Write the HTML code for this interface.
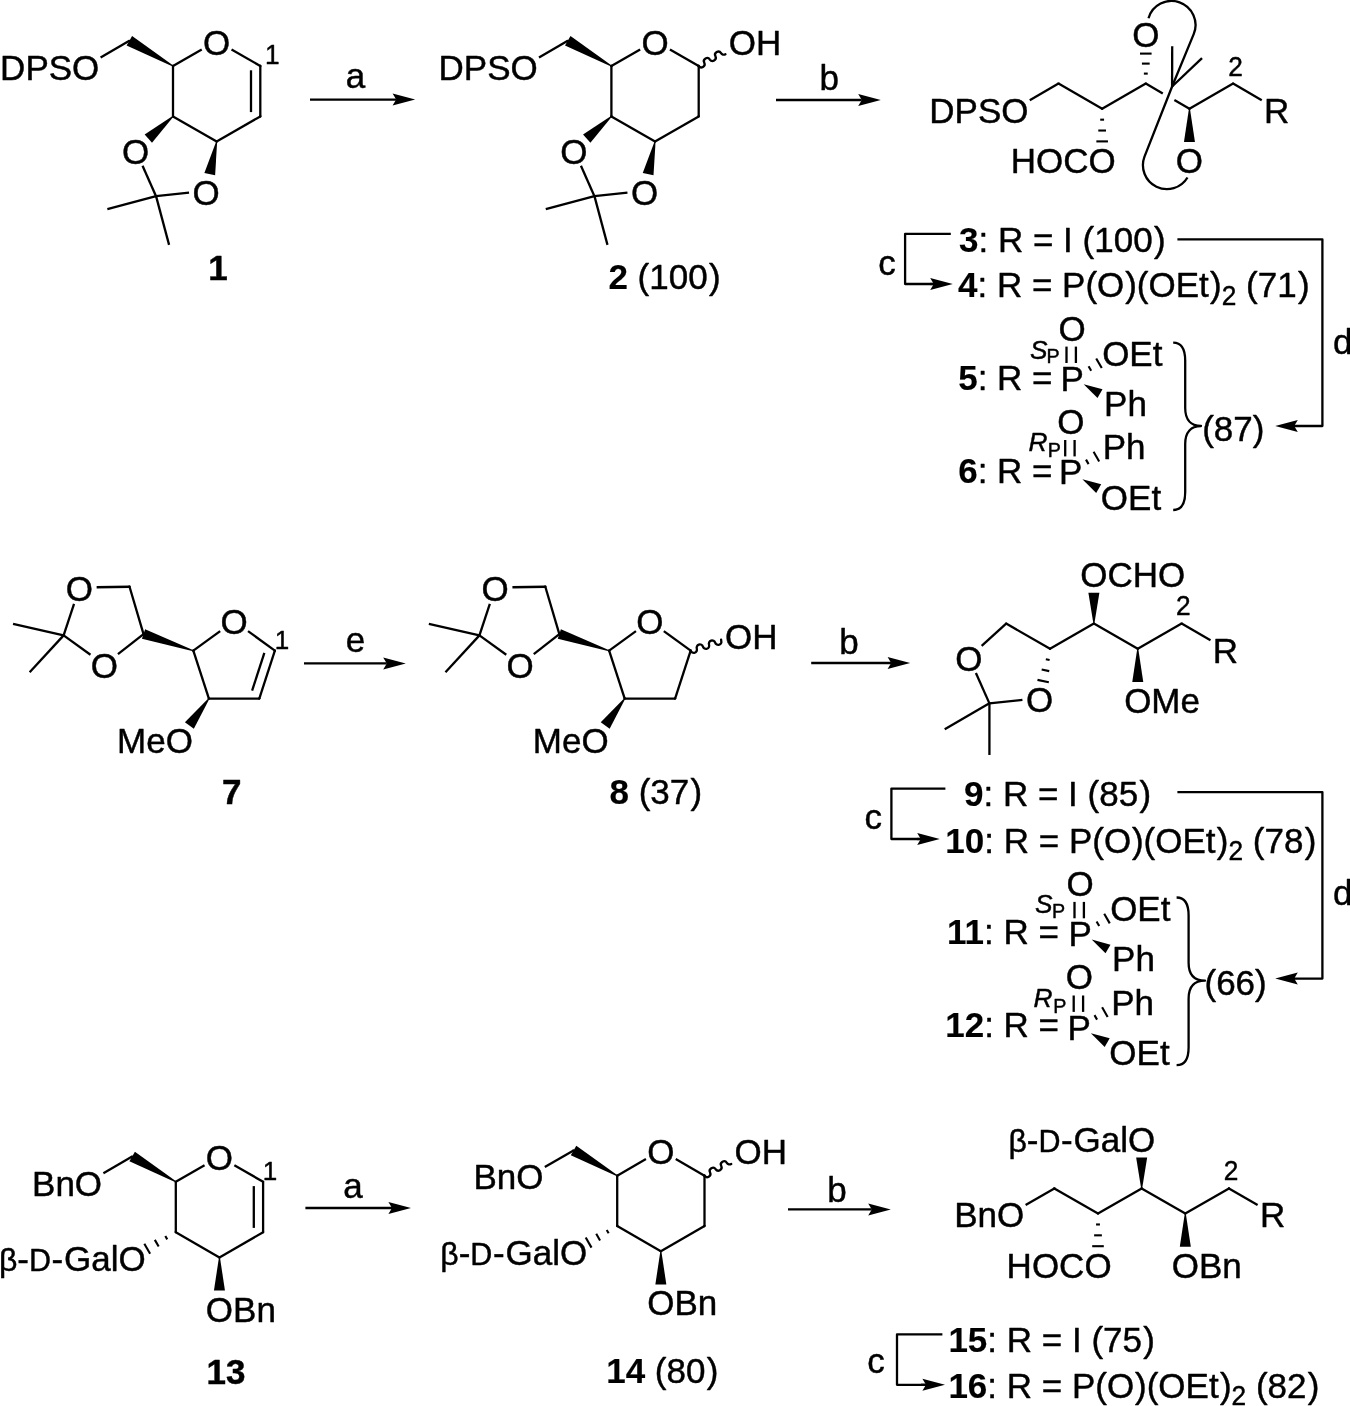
<!DOCTYPE html>
<html lang="en">
<head>
<meta charset="utf-8">
<title>Reaction scheme</title>
<style>
html,body{margin:0;padding:0;background:#fff;}
body{width:1350px;height:1406px;overflow:hidden;}
svg{display:block;will-change:transform;}
</style>
</head>
<body>
<svg width="1350" height="1406" viewBox="0 0 1350 1406" font-family="'Liberation Sans', sans-serif" font-size="35" fill="#000" stroke="#000" stroke-linejoin="round">
<g>
<line x1="173" y1="66" x2="201.75" y2="49.4" stroke-width="2.3" stroke-linecap="butt"/>
<circle cx="173" cy="66" r="1.15" stroke="none"/>
<line x1="231.54" y1="49.4" x2="260.3" y2="66" stroke-width="2.3" stroke-linecap="butt"/>
<circle cx="260.3" cy="66" r="1.15" stroke="none"/>
<line x1="260.3" y1="66" x2="260.3" y2="116.4" stroke-width="2.3" stroke-linecap="butt"/>
<circle cx="260.3" cy="66" r="1.15" stroke="none"/>
<circle cx="260.3" cy="116.4" r="1.15" stroke="none"/>
<line x1="260.3" y1="116.4" x2="216.65" y2="141.6" stroke-width="2.3" stroke-linecap="butt"/>
<circle cx="260.3" cy="116.4" r="1.15" stroke="none"/>
<circle cx="216.65" cy="141.6" r="1.15" stroke="none"/>
<line x1="216.65" y1="141.6" x2="173" y2="116.4" stroke-width="2.3" stroke-linecap="butt"/>
<circle cx="216.65" cy="141.6" r="1.15" stroke="none"/>
<circle cx="173" cy="116.4" r="1.15" stroke="none"/>
<line x1="173" y1="116.4" x2="173" y2="66" stroke-width="2.3" stroke-linecap="butt"/>
<circle cx="173" cy="116.4" r="1.15" stroke="none"/>
<circle cx="173" cy="66" r="1.15" stroke="none"/>
<line x1="251" y1="70.3" x2="251" y2="112.1" stroke-width="2.3" stroke-linecap="butt"/>
<polygon points="173.25,65.57 132.1,36.04 126.6,45.56 172.75,66.43" stroke="none" fill="#000"/>
<line x1="129.35" y1="40.8" x2="100.6" y2="57.4" stroke-width="2.3" stroke-linecap="butt"/>
<circle cx="129.35" cy="40.8" r="1.15" stroke="none"/>
<text stroke-width="0.45" x="99.31" y="79.8" transform="matrix(1 0 0 1.02 0 -1.6)" text-anchor="end">DPSO</text>
<text stroke-width="0.45" x="216.65" y="54.6" transform="matrix(1 0 0 1.02 0 -1.09)" text-anchor="middle">O</text>
<polygon points="172.67,116.03 144.65,134.53 152.01,142.7 173.33,116.77" stroke="none" fill="#000"/>
<polygon points="216.16,141.5 204.37,172.93 215.12,175.22 217.14,141.7" stroke="none" fill="#000"/>
<text stroke-width="0.45" x="135.55" y="163.92" transform="matrix(1 0 0 1.02 0 -3.28)" text-anchor="middle">O</text>
<text stroke-width="0.45" x="206.17" y="204.7" transform="matrix(1 0 0 1.02 0 -4.09)" text-anchor="middle">O</text>
<line x1="142.54" y1="165.84" x2="156.05" y2="196.17" stroke-width="2.3" stroke-linecap="butt"/>
<circle cx="156.05" cy="196.17" r="1.15" stroke="none"/>
<line x1="189.06" y1="192.7" x2="156.05" y2="196.17" stroke-width="2.3" stroke-linecap="butt"/>
<circle cx="156.05" cy="196.17" r="1.15" stroke="none"/>
<line x1="156.05" y1="196.17" x2="107.36" y2="209.21" stroke-width="2.3" stroke-linecap="butt"/>
<circle cx="156.05" cy="196.17" r="1.15" stroke="none"/>
<line x1="156.05" y1="196.17" x2="169.09" y2="244.85" stroke-width="2.3" stroke-linecap="butt"/>
<circle cx="156.05" cy="196.17" r="1.15" stroke="none"/>
<text stroke-width="0.45" x="272.3" y="64.5" transform="matrix(1 0 0 1.02 0 -1.29)" text-anchor="middle" font-size="26.25">1</text>
<text stroke-width="0.45" x="218" y="279.75" transform="matrix(1 0 0 1.02 0 -5.6)" text-anchor="middle" font-weight="bold">1</text>
<line x1="310" y1="99.6" x2="396.2" y2="99.6" stroke-width="2.3" stroke-linecap="butt"/>
<polygon points="415.2,99.6 392.6,93.6 396.2,99.6 392.6,105.6" stroke="none" fill="#000"/>
<text stroke-width="0.45" x="355.6" y="87.8" text-anchor="middle">a</text>
<line x1="611.4" y1="66" x2="640.15" y2="49.4" stroke-width="2.3" stroke-linecap="butt"/>
<circle cx="611.4" cy="66" r="1.15" stroke="none"/>
<line x1="669.94" y1="49.4" x2="698.7" y2="66" stroke-width="2.3" stroke-linecap="butt"/>
<circle cx="698.7" cy="66" r="1.15" stroke="none"/>
<line x1="698.7" y1="66" x2="698.7" y2="116.4" stroke-width="2.3" stroke-linecap="butt"/>
<circle cx="698.7" cy="66" r="1.15" stroke="none"/>
<circle cx="698.7" cy="116.4" r="1.15" stroke="none"/>
<line x1="698.7" y1="116.4" x2="655.05" y2="141.6" stroke-width="2.3" stroke-linecap="butt"/>
<circle cx="698.7" cy="116.4" r="1.15" stroke="none"/>
<circle cx="655.05" cy="141.6" r="1.15" stroke="none"/>
<line x1="655.05" y1="141.6" x2="611.4" y2="116.4" stroke-width="2.3" stroke-linecap="butt"/>
<circle cx="655.05" cy="141.6" r="1.15" stroke="none"/>
<circle cx="611.4" cy="116.4" r="1.15" stroke="none"/>
<line x1="611.4" y1="116.4" x2="611.4" y2="66" stroke-width="2.3" stroke-linecap="butt"/>
<circle cx="611.4" cy="116.4" r="1.15" stroke="none"/>
<circle cx="611.4" cy="66" r="1.15" stroke="none"/>
<polygon points="611.65,65.57 570.5,36.04 565,45.56 611.15,66.43" stroke="none" fill="#000"/>
<line x1="567.75" y1="40.8" x2="539" y2="57.4" stroke-width="2.3" stroke-linecap="butt"/>
<circle cx="567.75" cy="40.8" r="1.15" stroke="none"/>
<text stroke-width="0.45" x="537.71" y="79.8" transform="matrix(1 0 0 1.02 0 -1.6)" text-anchor="end">DPSO</text>
<text stroke-width="0.45" x="655.05" y="54.6" transform="matrix(1 0 0 1.02 0 -1.09)" text-anchor="middle">O</text>
<polygon points="611.07,116.03 583.05,134.53 590.41,142.7 611.73,116.77" stroke="none" fill="#000"/>
<polygon points="654.56,141.5 642.77,172.93 653.52,175.22 655.54,141.7" stroke="none" fill="#000"/>
<text stroke-width="0.45" x="573.95" y="163.92" transform="matrix(1 0 0 1.02 0 -3.28)" text-anchor="middle">O</text>
<text stroke-width="0.45" x="644.57" y="204.7" transform="matrix(1 0 0 1.02 0 -4.09)" text-anchor="middle">O</text>
<line x1="580.94" y1="165.84" x2="594.45" y2="196.17" stroke-width="2.3" stroke-linecap="butt"/>
<circle cx="594.45" cy="196.17" r="1.15" stroke="none"/>
<line x1="627.46" y1="192.7" x2="594.45" y2="196.17" stroke-width="2.3" stroke-linecap="butt"/>
<circle cx="594.45" cy="196.17" r="1.15" stroke="none"/>
<line x1="594.45" y1="196.17" x2="545.76" y2="209.21" stroke-width="2.3" stroke-linecap="butt"/>
<circle cx="594.45" cy="196.17" r="1.15" stroke="none"/>
<line x1="594.45" y1="196.17" x2="607.49" y2="244.85" stroke-width="2.3" stroke-linecap="butt"/>
<circle cx="594.45" cy="196.17" r="1.15" stroke="none"/>
<path d="M698.7 66 A3.23 3.23 0 0 0 704.28 62.78 A3.23 3.23 0 0 1 709.87 59.55 A3.23 3.23 0 0 0 715.45 56.33 A3.23 3.23 0 0 1 721.04 53.1 A3.23 3.23 0 0 0 725.44 54.28" stroke-width="2.3" fill="none" stroke-linecap="round"/>
<text stroke-width="0.45" x="728.73" y="54.6" transform="matrix(1 0 0 1.02 0 -1.09)">OH</text>
<text stroke-width="0.45" x="608.4" y="288.75" transform="matrix(1 0 0 1.02 0 -5.78)" dx="0 0 0 0 0 0 1.3"><tspan font-weight="bold" stroke-width="0.15">2</tspan> (100)</text>
<line x1="776" y1="100" x2="861.8" y2="100" stroke-width="2.3" stroke-linecap="butt"/>
<polygon points="880.8,100 858.2,94 861.8,100 858.2,106" stroke="none" fill="#000"/>
<text stroke-width="0.45" x="829.2" y="90.1" text-anchor="middle">b</text>
<line x1="1029.75" y1="100.2" x2="1058.5" y2="83.6" stroke-width="2.3" stroke-linecap="butt"/>
<circle cx="1058.5" cy="83.6" r="1.15" stroke="none"/>
<line x1="1058.5" y1="83.6" x2="1102.15" y2="108.8" stroke-width="2.3" stroke-linecap="butt"/>
<circle cx="1058.5" cy="83.6" r="1.15" stroke="none"/>
<circle cx="1102.15" cy="108.8" r="1.15" stroke="none"/>
<line x1="1102.15" y1="108.8" x2="1145.8" y2="83.6" stroke-width="2.3" stroke-linecap="butt"/>
<circle cx="1102.15" cy="108.8" r="1.15" stroke="none"/>
<circle cx="1145.8" cy="83.6" r="1.15" stroke="none"/>
<line x1="1145.8" y1="83.6" x2="1162.78" y2="93.4" stroke-width="2.3" stroke-linecap="butt"/>
<circle cx="1145.8" cy="83.6" r="1.15" stroke="none"/>
<line x1="1174.38" y1="100.1" x2="1189.45" y2="108.8" stroke-width="2.3" stroke-linecap="butt"/>
<circle cx="1189.45" cy="108.8" r="1.15" stroke="none"/>
<line x1="1189.45" y1="108.8" x2="1233.1" y2="83.6" stroke-width="2.3" stroke-linecap="butt"/>
<circle cx="1189.45" cy="108.8" r="1.15" stroke="none"/>
<circle cx="1233.1" cy="83.6" r="1.15" stroke="none"/>
<line x1="1233.1" y1="83.6" x2="1261.75" y2="100.14" stroke-width="2.3" stroke-linecap="butt"/>
<circle cx="1233.1" cy="83.6" r="1.15" stroke="none"/>
<text stroke-width="0.45" x="1028.46" y="122.6" transform="matrix(1 0 0 1.02 0 -2.45)" text-anchor="end">DPSO</text>
<text stroke-width="0.45" x="1276.75" y="122.6" transform="matrix(1 0 0 1.02 0 -2.45)" text-anchor="middle">R</text>
<text stroke-width="0.45" x="1235.6" y="75.6" transform="matrix(1 0 0 1.02 0 -1.51)" text-anchor="middle" font-size="26.25">2</text>
<line x1="1100.22" y1="119.67" x2="1104.08" y2="119.67" stroke-width="2.1" stroke-linecap="butt"/>
<line x1="1098.28" y1="130.53" x2="1106.02" y2="130.53" stroke-width="2.1" stroke-linecap="butt"/>
<line x1="1096.35" y1="141.4" x2="1107.95" y2="141.4" stroke-width="2.1" stroke-linecap="butt"/>
<text stroke-width="0.45" x="1115.76" y="173" transform="matrix(1 0 0 1.02 0 -3.46)" text-anchor="end">HOCO</text>
<line x1="1147.73" y1="73.6" x2="1143.87" y2="73.6" stroke-width="2.1" stroke-linecap="butt"/>
<line x1="1149.67" y1="63.6" x2="1141.93" y2="63.6" stroke-width="2.1" stroke-linecap="butt"/>
<line x1="1151.6" y1="53.6" x2="1140" y2="53.6" stroke-width="2.1" stroke-linecap="butt"/>
<text stroke-width="0.45" x="1145.8" y="47" transform="matrix(1 0 0 1.02 0 -0.94)" text-anchor="middle">O</text>
<polygon points="1188.95,108.8 1183.95,142 1194.95,142 1189.95,108.8" stroke="none" fill="#000"/>
<text stroke-width="0.45" x="1189.45" y="173" transform="matrix(1 0 0 1.02 0 -3.46)" text-anchor="middle">O</text>
<line x1="1172.1" y1="86.5" x2="1172.2" y2="46.3" stroke-width="2.3" stroke-linecap="butt"/>
<circle cx="1172.1" cy="86.5" r="1.15" stroke="none"/>
<line x1="1172.1" y1="86.5" x2="1202" y2="58.2" stroke-width="2.3" stroke-linecap="butt"/>
<circle cx="1172.1" cy="86.5" r="1.15" stroke="none"/>
<path d="M1172.1 86.5 L1193.7 34.15 A24 24 0 1 0 1148.5 18.2" stroke-width="2.3" fill="none"/>
<path d="M1172.1 86.5 L1144.5 156.6 A24 24 0 0 0 1187.5 177.5" stroke-width="2.3" fill="none"/>
<text stroke-width="0.45" x="959" y="252" transform="matrix(1 0 0 1.02 0 -5.04)" dx="0 0 0 0 0 0 0 0 0 0 0 0 0 1.3"><tspan font-weight="bold" stroke-width="0.15">3</tspan>: R = I (100)</text>
<text stroke-width="0.45" x="958" y="297.4" transform="matrix(1 0 0 1.02 0 -5.95)" dx="0 0 0 0 0 0 0 0 0 0 0.8 0 0 0 0 1.3 0 0 0 0 0 1.3"><tspan font-weight="bold" stroke-width="0.15">4</tspan>: R = P(O)(OEt)<tspan font-size="26.25" dy="7">2</tspan><tspan dy="-7"> (71)</tspan></text>
<path d="M950.8 233.9 H905.1 V284 H934" stroke-width="2.3" fill="none"/>
<line x1="930" y1="284" x2="933.8" y2="284" stroke-width="2.3" stroke-linecap="butt"/>
<polygon points="952.8,284 930.2,278 933.8,284 930.2,290" stroke="none" fill="#000"/>
<text stroke-width="0.45" x="887" y="274.5" text-anchor="middle">c</text>
<path d="M1177.4 239.4 H1322.4 V426 H1290" stroke-width="2.3" fill="none"/>
<line x1="1295" y1="426" x2="1294.2" y2="426" stroke-width="2.3" stroke-linecap="butt"/>
<polygon points="1275.2,426 1297.8,420 1294.2,426 1297.8,432" stroke="none" fill="#000"/>
<text stroke-width="0.45" x="1332.9" y="353.8">d</text>
<text stroke-width="0.45" x="1072.1" y="391" transform="matrix(1 0 0 1.02 0 -7.82)" text-anchor="middle">P</text>
<text stroke-width="0.45" x="1072.1" y="340.6" transform="matrix(1 0 0 1.02 0 -6.81)" text-anchor="middle">O</text>
<line x1="1066.5" y1="346.6" x2="1066.5" y2="363" stroke-width="2.3" stroke-linecap="butt"/>
<line x1="1075.9" y1="346.6" x2="1075.9" y2="363" stroke-width="2.3" stroke-linecap="butt"/>
<text stroke-width="0.45" x="1029.9" y="358.65" font-size="26.25"><tspan font-style="italic">S</tspan><tspan font-size="19.7" x="1046.5" y="363.1">P</tspan></text>
<text stroke-width="0.45" x="1102.14" y="365.8" transform="matrix(1 0 0 1.02 0 -7.32)">OEt</text>
<text stroke-width="0.45" x="1104.08" y="416.2" transform="matrix(1 0 0 1.02 0 -8.32)">Ph</text>
<line x1="1088.59" y1="366.25" x2="1091.19" y2="370.75" stroke-width="2.1" stroke-linecap="butt"/>
<line x1="1096.21" y1="358.44" x2="1101.76" y2="368.06" stroke-width="2.1" stroke-linecap="butt"/>
<polygon points="1083.7,384.3 1097.49,398.03 1102.49,389.37" stroke="none" fill="#000"/>
<text stroke-width="0.45" x="958.2" y="390" transform="matrix(1 0 0 1.02 0 -7.8)"><tspan font-weight="bold" stroke-width="0.15">5</tspan>: R =</text>
<text stroke-width="0.45" x="1070.8" y="484.4" transform="matrix(1 0 0 1.02 0 -9.69)" text-anchor="middle">P</text>
<text stroke-width="0.45" x="1070.8" y="434" transform="matrix(1 0 0 1.02 0 -8.68)" text-anchor="middle">O</text>
<line x1="1065.2" y1="440" x2="1065.2" y2="456.4" stroke-width="2.3" stroke-linecap="butt"/>
<line x1="1074.6" y1="440" x2="1074.6" y2="456.4" stroke-width="2.3" stroke-linecap="butt"/>
<text stroke-width="0.45" x="1028.6" y="450.6" font-size="26.25"><tspan font-style="italic">R</tspan><tspan font-size="19.7" x="1047.8" y="456.9">P</tspan></text>
<text stroke-width="0.45" x="1102.78" y="459.2" transform="matrix(1 0 0 1.02 0 -9.18)">Ph</text>
<text stroke-width="0.45" x="1100.84" y="509.6" transform="matrix(1 0 0 1.02 0 -10.19)">OEt</text>
<line x1="1085.99" y1="459.65" x2="1088.59" y2="464.15" stroke-width="2.1" stroke-linecap="butt"/>
<line x1="1093.61" y1="451.84" x2="1099.16" y2="461.46" stroke-width="2.1" stroke-linecap="butt"/>
<polygon points="1082.4,479.2 1096.19,492.93 1101.19,484.27" stroke="none" fill="#000"/>
<text stroke-width="0.45" x="958.2" y="483" transform="matrix(1 0 0 1.02 0 -9.66)"><tspan font-weight="bold" stroke-width="0.15">6</tspan>: R =</text>
<path d="M1173.2 342.6 C1181.2 342.6 1185.2 348.6 1185.2 360.6 L1185.2 408 C1185.2 420 1191.2 426 1201 426 C1191.2 426 1185.2 432 1185.2 444 L1185.2 492 C1185.2 504 1181.2 510 1173.2 510" stroke-width="2.3" fill="none"/>
<text stroke-width="0.45" x="1202.2" y="441.5" transform="matrix(1 0 0 1.02 0 -8.83)">(87)</text>
<line x1="208.9" y1="698.6" x2="259.3" y2="698.6" stroke-width="2.3" stroke-linecap="butt"/>
<circle cx="208.9" cy="698.6" r="1.15" stroke="none"/>
<circle cx="259.3" cy="698.6" r="1.15" stroke="none"/>
<line x1="208.9" y1="698.6" x2="193.33" y2="650.67" stroke-width="2.3" stroke-linecap="butt"/>
<circle cx="208.9" cy="698.6" r="1.15" stroke="none"/>
<circle cx="193.33" cy="650.67" r="1.15" stroke="none"/>
<line x1="259.3" y1="698.6" x2="274.87" y2="650.67" stroke-width="2.3" stroke-linecap="butt"/>
<circle cx="259.3" cy="698.6" r="1.15" stroke="none"/>
<circle cx="274.87" cy="650.67" r="1.15" stroke="none"/>
<line x1="193.33" y1="650.67" x2="220.18" y2="631.15" stroke-width="2.3" stroke-linecap="butt"/>
<circle cx="193.33" cy="650.67" r="1.15" stroke="none"/>
<line x1="248.02" y1="631.15" x2="274.87" y2="650.67" stroke-width="2.3" stroke-linecap="butt"/>
<circle cx="274.87" cy="650.67" r="1.15" stroke="none"/>
<text stroke-width="0.45" x="234.1" y="634.34" transform="matrix(1 0 0 1.02 0 -12.69)" text-anchor="middle">O</text>
<line x1="264.36" y1="652.93" x2="252.12" y2="690.59" stroke-width="2.3" stroke-linecap="butt"/>
<polygon points="208.5,698.31 184.94,722.23 193.84,728.69 209.3,698.89" stroke="none" fill="#000"/>
<text stroke-width="0.45" x="192.89" y="752.77" transform="matrix(1 0 0 1.02 0 -15.06)" text-anchor="end">MeO</text>
<polygon points="193.48,650.19 145.11,629.32 141.94,638.81 193.17,651.14" stroke="none" fill="#000"/>
<line x1="143.53" y1="634.07" x2="129.53" y2="586.77" stroke-width="2.3" stroke-linecap="butt"/>
<circle cx="143.53" cy="634.07" r="1.15" stroke="none"/>
<circle cx="129.53" cy="586.77" r="1.15" stroke="none"/>
<line x1="129.53" y1="586.77" x2="96.62" y2="587.23" stroke-width="2.3" stroke-linecap="butt"/>
<circle cx="129.53" cy="586.77" r="1.15" stroke="none"/>
<line x1="74.04" y1="603.8" x2="63.63" y2="635.37" stroke-width="2.3" stroke-linecap="butt"/>
<circle cx="63.63" cy="635.37" r="1.15" stroke="none"/>
<line x1="63.63" y1="635.37" x2="90.47" y2="654.71" stroke-width="2.3" stroke-linecap="butt"/>
<circle cx="63.63" cy="635.37" r="1.15" stroke="none"/>
<line x1="117.95" y1="654.14" x2="143.53" y2="634.07" stroke-width="2.3" stroke-linecap="butt"/>
<circle cx="143.53" cy="634.07" r="1.15" stroke="none"/>
<text stroke-width="0.45" x="79.43" y="600.67" transform="matrix(1 0 0 1.02 0 -12.01)" text-anchor="middle">O</text>
<text stroke-width="0.45" x="104.43" y="677.97" transform="matrix(1 0 0 1.02 0 -13.56)" text-anchor="middle">O</text>
<line x1="63.63" y1="635.37" x2="13.04" y2="623.78" stroke-width="2.3" stroke-linecap="butt"/>
<circle cx="63.63" cy="635.37" r="1.15" stroke="none"/>
<line x1="63.63" y1="635.37" x2="29.65" y2="672.19" stroke-width="2.3" stroke-linecap="butt"/>
<circle cx="63.63" cy="635.37" r="1.15" stroke="none"/>
<text stroke-width="0.45" x="282" y="649" transform="matrix(1 0 0 1.02 0 -12.98)" text-anchor="middle" font-size="26">1</text>
<text stroke-width="0.45" x="231.8" y="804.2" transform="matrix(1 0 0 1.02 0 -16.08)" text-anchor="middle" font-weight="bold">7</text>
<line x1="304" y1="663.4" x2="386.8" y2="663.4" stroke-width="2.3" stroke-linecap="butt"/>
<polygon points="405.8,663.4 383.2,657.4 386.8,663.4 383.2,669.4" stroke="none" fill="#000"/>
<text stroke-width="0.45" x="355.6" y="651.7" text-anchor="middle">e</text>
<line x1="624.7" y1="698.6" x2="675.1" y2="698.6" stroke-width="2.3" stroke-linecap="butt"/>
<circle cx="624.7" cy="698.6" r="1.15" stroke="none"/>
<circle cx="675.1" cy="698.6" r="1.15" stroke="none"/>
<line x1="624.7" y1="698.6" x2="609.13" y2="650.67" stroke-width="2.3" stroke-linecap="butt"/>
<circle cx="624.7" cy="698.6" r="1.15" stroke="none"/>
<circle cx="609.13" cy="650.67" r="1.15" stroke="none"/>
<line x1="675.1" y1="698.6" x2="690.67" y2="650.67" stroke-width="2.3" stroke-linecap="butt"/>
<circle cx="675.1" cy="698.6" r="1.15" stroke="none"/>
<circle cx="690.67" cy="650.67" r="1.15" stroke="none"/>
<line x1="609.13" y1="650.67" x2="635.98" y2="631.15" stroke-width="2.3" stroke-linecap="butt"/>
<circle cx="609.13" cy="650.67" r="1.15" stroke="none"/>
<line x1="663.82" y1="631.15" x2="690.67" y2="650.67" stroke-width="2.3" stroke-linecap="butt"/>
<circle cx="690.67" cy="650.67" r="1.15" stroke="none"/>
<text stroke-width="0.45" x="649.9" y="634.34" transform="matrix(1 0 0 1.02 0 -12.69)" text-anchor="middle">O</text>
<polygon points="624.3,698.31 600.74,722.23 609.64,728.69 625.1,698.89" stroke="none" fill="#000"/>
<text stroke-width="0.45" x="608.69" y="752.77" transform="matrix(1 0 0 1.02 0 -15.06)" text-anchor="end">MeO</text>
<polygon points="609.28,650.19 560.91,629.32 557.74,638.81 608.97,651.14" stroke="none" fill="#000"/>
<line x1="559.33" y1="634.07" x2="545.33" y2="586.77" stroke-width="2.3" stroke-linecap="butt"/>
<circle cx="559.33" cy="634.07" r="1.15" stroke="none"/>
<circle cx="545.33" cy="586.77" r="1.15" stroke="none"/>
<line x1="545.33" y1="586.77" x2="512.42" y2="587.23" stroke-width="2.3" stroke-linecap="butt"/>
<circle cx="545.33" cy="586.77" r="1.15" stroke="none"/>
<line x1="489.84" y1="603.8" x2="479.43" y2="635.37" stroke-width="2.3" stroke-linecap="butt"/>
<circle cx="479.43" cy="635.37" r="1.15" stroke="none"/>
<line x1="479.43" y1="635.37" x2="506.27" y2="654.71" stroke-width="2.3" stroke-linecap="butt"/>
<circle cx="479.43" cy="635.37" r="1.15" stroke="none"/>
<line x1="533.75" y1="654.14" x2="559.33" y2="634.07" stroke-width="2.3" stroke-linecap="butt"/>
<circle cx="559.33" cy="634.07" r="1.15" stroke="none"/>
<text stroke-width="0.45" x="495.23" y="600.67" transform="matrix(1 0 0 1.02 0 -12.01)" text-anchor="middle">O</text>
<text stroke-width="0.45" x="520.23" y="677.97" transform="matrix(1 0 0 1.02 0 -13.56)" text-anchor="middle">O</text>
<line x1="479.43" y1="635.37" x2="428.84" y2="623.78" stroke-width="2.3" stroke-linecap="butt"/>
<circle cx="479.43" cy="635.37" r="1.15" stroke="none"/>
<line x1="479.43" y1="635.37" x2="445.45" y2="672.19" stroke-width="2.3" stroke-linecap="butt"/>
<circle cx="479.43" cy="635.37" r="1.15" stroke="none"/>
<path d="M690.67 650.67 A3.21 3.21 0 0 0 696.79 648.68 A3.21 3.21 0 0 1 702.91 646.69 A3.21 3.21 0 0 0 709.02 644.71 A3.21 3.21 0 0 1 715.14 642.72 A3.21 3.21 0 0 0 721.25 640.73 A3.21 3.21 0 0 1 721.1 639.54" stroke-width="2.3" fill="none" stroke-linecap="round"/>
<text stroke-width="0.45" x="725" y="648.89" transform="matrix(1 0 0 1.02 0 -12.98)">OH</text>
<text stroke-width="0.45" x="609.5" y="804.2" transform="matrix(1 0 0 1.02 0 -16.08)" dx="0 0 0 0 0 1.3"><tspan font-weight="bold" stroke-width="0.15">8</tspan> (37)</text>
<line x1="811.2" y1="663" x2="891.2" y2="663" stroke-width="2.3" stroke-linecap="butt"/>
<polygon points="910.2,663 887.6,657 891.2,663 887.6,669" stroke="none" fill="#000"/>
<text stroke-width="0.45" x="849" y="654.4" text-anchor="middle">b</text>
<line x1="1006.15" y1="623.6" x2="1050.02" y2="648.8" stroke-width="2.3" stroke-linecap="butt"/>
<circle cx="1006.15" cy="623.6" r="1.15" stroke="none"/>
<circle cx="1050.02" cy="648.8" r="1.15" stroke="none"/>
<line x1="1050.02" y1="648.8" x2="1093.89" y2="623.6" stroke-width="2.3" stroke-linecap="butt"/>
<circle cx="1050.02" cy="648.8" r="1.15" stroke="none"/>
<circle cx="1093.89" cy="623.6" r="1.15" stroke="none"/>
<line x1="1093.89" y1="623.6" x2="1137.76" y2="648.8" stroke-width="2.3" stroke-linecap="butt"/>
<circle cx="1093.89" cy="623.6" r="1.15" stroke="none"/>
<circle cx="1137.76" cy="648.8" r="1.15" stroke="none"/>
<line x1="1137.76" y1="648.8" x2="1181.63" y2="623.6" stroke-width="2.3" stroke-linecap="butt"/>
<circle cx="1137.76" cy="648.8" r="1.15" stroke="none"/>
<circle cx="1181.63" cy="623.6" r="1.15" stroke="none"/>
<line x1="1181.63" y1="623.6" x2="1210.5" y2="640.18" stroke-width="2.3" stroke-linecap="butt"/>
<circle cx="1181.63" cy="623.6" r="1.15" stroke="none"/>
<text stroke-width="0.45" x="1225.5" y="662.6" transform="matrix(1 0 0 1.02 0 -13.25)" text-anchor="middle">R</text>
<text stroke-width="0.45" x="1183.2" y="615" transform="matrix(1 0 0 1.02 0 -12.3)" text-anchor="middle" font-size="26.25">2</text>
<line x1="1006.15" y1="623.6" x2="981.67" y2="645.78" stroke-width="2.3" stroke-linecap="butt"/>
<circle cx="1006.15" cy="623.6" r="1.15" stroke="none"/>
<line x1="975.91" y1="673.04" x2="989.42" y2="703.37" stroke-width="2.3" stroke-linecap="butt"/>
<circle cx="989.42" cy="703.37" r="1.15" stroke="none"/>
<line x1="1022.44" y1="699.9" x2="989.42" y2="703.37" stroke-width="2.3" stroke-linecap="butt"/>
<circle cx="989.42" cy="703.37" r="1.15" stroke="none"/>
<line x1="1045.84" y1="659.16" x2="1049.62" y2="659.96" stroke-width="2.1" stroke-linecap="butt"/>
<line x1="1041.66" y1="669.52" x2="1049.23" y2="671.12" stroke-width="2.1" stroke-linecap="butt"/>
<line x1="1037.49" y1="679.87" x2="1048.83" y2="682.28" stroke-width="2.1" stroke-linecap="butt"/>
<text stroke-width="0.45" x="968.92" y="671.12" transform="matrix(1 0 0 1.02 0 -13.42)" text-anchor="middle">O</text>
<text stroke-width="0.45" x="1039.54" y="711.9" transform="matrix(1 0 0 1.02 0 -14.24)" text-anchor="middle">O</text>
<line x1="989.42" y1="703.37" x2="944.73" y2="729.17" stroke-width="2.3" stroke-linecap="butt"/>
<circle cx="989.42" cy="703.37" r="1.15" stroke="none"/>
<line x1="989.42" y1="703.37" x2="989.42" y2="754.97" stroke-width="2.3" stroke-linecap="butt"/>
<circle cx="989.42" cy="703.37" r="1.15" stroke="none"/>
<polygon points="1094.39,623.6 1099.39,592.8 1088.39,592.8 1093.39,623.6" stroke="none" fill="#000"/>
<text stroke-width="0.45" x="1080.28" y="587" transform="matrix(1 0 0 1.02 0 -11.74)">OCHO</text>
<polygon points="1137.26,648.8 1132.26,682 1143.26,682 1138.26,648.8" stroke="none" fill="#000"/>
<text stroke-width="0.45" x="1124.15" y="713" transform="matrix(1 0 0 1.02 0 -14.26)">OMe</text>
<text stroke-width="0.45" x="964" y="806.2" transform="matrix(1 0 0 1.02 0 -16.12)" dx="0 0 0 0 0 0 0 0 0 0 0 0 1.3"><tspan font-weight="bold" stroke-width="0.15">9</tspan>: R = I (85)</text>
<text stroke-width="0.45" x="945.3" y="852.6" transform="matrix(1 0 0 1.02 0 -17.05)" dx="0 0 0 0 0 0 0 0 0 0 0 0.8 0 0 0 0 1.3 0 0 0 0 0 1.3"><tspan font-weight="bold" stroke-width="0.15">10</tspan>: R = P(O)(OEt)<tspan font-size="26.25" dy="7">2</tspan><tspan dy="-7"> (78)</tspan></text>
<path d="M945.4 788.6 H891.4 V839 H922" stroke-width="2.3" fill="none"/>
<line x1="917" y1="839" x2="920.8" y2="839" stroke-width="2.3" stroke-linecap="butt"/>
<polygon points="939.8,839 917.2,833 920.8,839 917.2,845" stroke="none" fill="#000"/>
<text stroke-width="0.45" x="873.3" y="829" text-anchor="middle">c</text>
<path d="M1177.4 792.2 H1322.4 V978.6 H1290" stroke-width="2.3" fill="none"/>
<line x1="1295" y1="978.6" x2="1294.2" y2="978.6" stroke-width="2.3" stroke-linecap="butt"/>
<polygon points="1275.2,978.6 1297.8,972.6 1294.2,978.6 1297.8,984.6" stroke="none" fill="#000"/>
<text stroke-width="0.45" x="1332.9" y="905.3">d</text>
<text stroke-width="0.45" x="1080.1" y="946.3" transform="matrix(1 0 0 1.02 0 -18.93)" text-anchor="middle">P</text>
<text stroke-width="0.45" x="1080.1" y="895.9" transform="matrix(1 0 0 1.02 0 -17.92)" text-anchor="middle">O</text>
<line x1="1074.5" y1="901.9" x2="1074.5" y2="918.3" stroke-width="2.3" stroke-linecap="butt"/>
<line x1="1083.9" y1="901.9" x2="1083.9" y2="918.3" stroke-width="2.3" stroke-linecap="butt"/>
<text stroke-width="0.45" x="1034.9" y="913.25" font-size="26.25"><tspan font-style="italic">S</tspan><tspan font-size="19.7" x="1052" y="918.4">P</tspan></text>
<text stroke-width="0.45" x="1110.14" y="921.1" transform="matrix(1 0 0 1.02 0 -18.42)">OEt</text>
<text stroke-width="0.45" x="1112.08" y="971.5" transform="matrix(1 0 0 1.02 0 -19.43)">Ph</text>
<line x1="1096.59" y1="921.55" x2="1099.19" y2="926.05" stroke-width="2.1" stroke-linecap="butt"/>
<line x1="1104.21" y1="913.74" x2="1109.76" y2="923.36" stroke-width="2.1" stroke-linecap="butt"/>
<polygon points="1091.7,939.6 1105.49,953.33 1110.49,944.67" stroke="none" fill="#000"/>
<text stroke-width="0.45" x="947" y="944" transform="matrix(1 0 0 1.02 0 -18.88)"><tspan font-weight="bold" stroke-width="0.15">11</tspan>: R =</text>
<text stroke-width="0.45" x="1079.3" y="1039.9" transform="matrix(1 0 0 1.02 0 -20.8)" text-anchor="middle">P</text>
<text stroke-width="0.45" x="1079.3" y="989.5" transform="matrix(1 0 0 1.02 0 -19.79)" text-anchor="middle">O</text>
<line x1="1073.7" y1="995.5" x2="1073.7" y2="1011.9" stroke-width="2.3" stroke-linecap="butt"/>
<line x1="1083.1" y1="995.5" x2="1083.1" y2="1011.9" stroke-width="2.3" stroke-linecap="butt"/>
<text stroke-width="0.45" x="1033.6" y="1007.1" font-size="26.25"><tspan font-style="italic">R</tspan><tspan font-size="19.7" x="1053.3" y="1012.8">P</tspan></text>
<text stroke-width="0.45" x="1111.28" y="1014.7" transform="matrix(1 0 0 1.02 0 -20.29)">Ph</text>
<text stroke-width="0.45" x="1109.34" y="1065.1" transform="matrix(1 0 0 1.02 0 -21.3)">OEt</text>
<line x1="1094.49" y1="1015.15" x2="1097.09" y2="1019.65" stroke-width="2.1" stroke-linecap="butt"/>
<line x1="1102.11" y1="1007.34" x2="1107.66" y2="1016.96" stroke-width="2.1" stroke-linecap="butt"/>
<polygon points="1090.9,1033.2 1104.69,1046.93 1109.69,1038.27" stroke="none" fill="#000"/>
<text stroke-width="0.45" x="945.2" y="1037" transform="matrix(1 0 0 1.02 0 -20.74)"><tspan font-weight="bold" stroke-width="0.15">12</tspan>: R =</text>
<path d="M1176.6 897.5 C1184.6 897.5 1188.6 903.5 1188.6 915.5 L1188.6 962.7 C1188.6 974.7 1194.6 980.7 1205 980.7 C1194.6 980.7 1188.6 986.7 1188.6 998.7 L1188.6 1047.2 C1188.6 1059.2 1184.6 1065.2 1176.6 1065.2" stroke-width="2.3" fill="none"/>
<text stroke-width="0.45" x="1204.5" y="994.8" transform="matrix(1 0 0 1.02 0 -19.9)">(66)</text>
<line x1="175.8" y1="1181.8" x2="204.55" y2="1165.2" stroke-width="2.3" stroke-linecap="butt"/>
<circle cx="175.8" cy="1181.8" r="1.15" stroke="none"/>
<line x1="234.34" y1="1165.2" x2="263.1" y2="1181.8" stroke-width="2.3" stroke-linecap="butt"/>
<circle cx="263.1" cy="1181.8" r="1.15" stroke="none"/>
<line x1="263.1" y1="1181.8" x2="263.1" y2="1232.2" stroke-width="2.3" stroke-linecap="butt"/>
<circle cx="263.1" cy="1181.8" r="1.15" stroke="none"/>
<circle cx="263.1" cy="1232.2" r="1.15" stroke="none"/>
<line x1="263.1" y1="1232.2" x2="219.45" y2="1257.4" stroke-width="2.3" stroke-linecap="butt"/>
<circle cx="263.1" cy="1232.2" r="1.15" stroke="none"/>
<circle cx="219.45" cy="1257.4" r="1.15" stroke="none"/>
<line x1="219.45" y1="1257.4" x2="175.8" y2="1232.2" stroke-width="2.3" stroke-linecap="butt"/>
<circle cx="219.45" cy="1257.4" r="1.15" stroke="none"/>
<circle cx="175.8" cy="1232.2" r="1.15" stroke="none"/>
<line x1="175.8" y1="1232.2" x2="175.8" y2="1181.8" stroke-width="2.3" stroke-linecap="butt"/>
<circle cx="175.8" cy="1232.2" r="1.15" stroke="none"/>
<circle cx="175.8" cy="1181.8" r="1.15" stroke="none"/>
<line x1="253.8" y1="1186.1" x2="253.8" y2="1227.9" stroke-width="2.3" stroke-linecap="butt"/>
<polygon points="176.05,1181.37 134.9,1151.84 129.4,1161.36 175.55,1182.23" stroke="none" fill="#000"/>
<line x1="132.15" y1="1156.6" x2="103.4" y2="1173.2" stroke-width="2.3" stroke-linecap="butt"/>
<circle cx="132.15" cy="1156.6" r="1.15" stroke="none"/>
<text stroke-width="0.45" x="102.11" y="1195.6" transform="matrix(1 0 0 1.02 0 -23.91)" text-anchor="end">BnO</text>
<text stroke-width="0.45" x="219.45" y="1170.4" transform="matrix(1 0 0 1.02 0 -23.41)" text-anchor="middle">O</text>
<line x1="165.31" y1="1236.03" x2="167.24" y2="1239.37" stroke-width="2.1" stroke-linecap="butt"/>
<line x1="154.81" y1="1239.85" x2="158.68" y2="1246.55" stroke-width="2.1" stroke-linecap="butt"/>
<line x1="144.32" y1="1243.68" x2="150.12" y2="1253.72" stroke-width="2.1" stroke-linecap="butt"/>
<text stroke-width="0.45" x="145.76" y="1271.2" text-anchor="end" dx="0 0 0 0.6 0.8"><tspan font-size="32">β</tspan>-<tspan font-size="30.5">D</tspan>-GalO</text>
<polygon points="218.95,1257.4 213.95,1290.6 224.95,1290.6 219.95,1257.4" stroke="none" fill="#000"/>
<text stroke-width="0.45" x="205.84" y="1321.6" transform="matrix(1 0 0 1.02 0 -26.43)">OBn</text>
<text stroke-width="0.45" x="270" y="1180" transform="matrix(1 0 0 1.02 0 -23.6)" text-anchor="middle" font-size="26">1</text>
<text stroke-width="0.45" x="226" y="1384" transform="matrix(1 0 0 1.02 0 -27.68)" text-anchor="middle" font-weight="bold">13</text>
<line x1="305.4" y1="1208" x2="392" y2="1208" stroke-width="2.3" stroke-linecap="butt"/>
<polygon points="411,1208 388.4,1202 392,1208 388.4,1214" stroke="none" fill="#000"/>
<text stroke-width="0.45" x="353" y="1198.3" text-anchor="middle">a</text>
<line x1="617.2" y1="1175.7" x2="645.95" y2="1159.1" stroke-width="2.3" stroke-linecap="butt"/>
<circle cx="617.2" cy="1175.7" r="1.15" stroke="none"/>
<line x1="675.74" y1="1159.1" x2="704.5" y2="1175.7" stroke-width="2.3" stroke-linecap="butt"/>
<circle cx="704.5" cy="1175.7" r="1.15" stroke="none"/>
<line x1="704.5" y1="1175.7" x2="704.5" y2="1226.1" stroke-width="2.3" stroke-linecap="butt"/>
<circle cx="704.5" cy="1175.7" r="1.15" stroke="none"/>
<circle cx="704.5" cy="1226.1" r="1.15" stroke="none"/>
<line x1="704.5" y1="1226.1" x2="660.85" y2="1251.3" stroke-width="2.3" stroke-linecap="butt"/>
<circle cx="704.5" cy="1226.1" r="1.15" stroke="none"/>
<circle cx="660.85" cy="1251.3" r="1.15" stroke="none"/>
<line x1="660.85" y1="1251.3" x2="617.2" y2="1226.1" stroke-width="2.3" stroke-linecap="butt"/>
<circle cx="660.85" cy="1251.3" r="1.15" stroke="none"/>
<circle cx="617.2" cy="1226.1" r="1.15" stroke="none"/>
<line x1="617.2" y1="1226.1" x2="617.2" y2="1175.7" stroke-width="2.3" stroke-linecap="butt"/>
<circle cx="617.2" cy="1226.1" r="1.15" stroke="none"/>
<circle cx="617.2" cy="1175.7" r="1.15" stroke="none"/>
<polygon points="617.45,1175.27 576.3,1145.74 570.8,1155.26 616.95,1176.13" stroke="none" fill="#000"/>
<line x1="573.55" y1="1150.5" x2="544.8" y2="1167.1" stroke-width="2.3" stroke-linecap="butt"/>
<circle cx="573.55" cy="1150.5" r="1.15" stroke="none"/>
<text stroke-width="0.45" x="543.51" y="1189.5" transform="matrix(1 0 0 1.02 0 -23.79)" text-anchor="end">BnO</text>
<text stroke-width="0.45" x="660.85" y="1164.3" transform="matrix(1 0 0 1.02 0 -23.29)" text-anchor="middle">O</text>
<line x1="606.71" y1="1229.93" x2="608.64" y2="1233.27" stroke-width="2.1" stroke-linecap="butt"/>
<line x1="596.21" y1="1233.75" x2="600.08" y2="1240.45" stroke-width="2.1" stroke-linecap="butt"/>
<line x1="585.72" y1="1237.58" x2="591.52" y2="1247.62" stroke-width="2.1" stroke-linecap="butt"/>
<text stroke-width="0.45" x="587.16" y="1265.1" text-anchor="end" dx="0 0 0 0.6 0.8"><tspan font-size="32">β</tspan>-<tspan font-size="30.5">D</tspan>-GalO</text>
<polygon points="660.35,1251.3 655.35,1284.5 666.35,1284.5 661.35,1251.3" stroke="none" fill="#000"/>
<text stroke-width="0.45" x="647.24" y="1315.5" transform="matrix(1 0 0 1.02 0 -26.31)">OBn</text>
<path d="M704.5 1175.7 A3.23 3.23 0 0 0 710.08 1172.48 A3.23 3.23 0 0 1 715.67 1169.25 A3.23 3.23 0 0 0 721.25 1166.03 A3.23 3.23 0 0 1 726.84 1162.8 A3.23 3.23 0 0 0 731.24 1163.98" stroke-width="2.3" fill="none" stroke-linecap="round"/>
<text stroke-width="0.45" x="734.53" y="1164.3" transform="matrix(1 0 0 1.02 0 -23.29)">OH</text>
<text stroke-width="0.45" x="606.2" y="1383.5" transform="matrix(1 0 0 1.02 0 -27.67)" dx="0 0 0 0 0 0 1.3"><tspan font-weight="bold" stroke-width="0.15">14</tspan> (80)</text>
<line x1="788" y1="1209.4" x2="871.8" y2="1209.4" stroke-width="2.3" stroke-linecap="butt"/>
<polygon points="890.8,1209.4 868.2,1203.4 871.8,1209.4 868.2,1215.4" stroke="none" fill="#000"/>
<text stroke-width="0.45" x="837" y="1202.3" text-anchor="middle">b</text>
<line x1="1025.6" y1="1205" x2="1054.35" y2="1188.4" stroke-width="2.3" stroke-linecap="butt"/>
<circle cx="1054.35" cy="1188.4" r="1.15" stroke="none"/>
<line x1="1054.35" y1="1188.4" x2="1098" y2="1213.6" stroke-width="2.3" stroke-linecap="butt"/>
<circle cx="1054.35" cy="1188.4" r="1.15" stroke="none"/>
<circle cx="1098" cy="1213.6" r="1.15" stroke="none"/>
<line x1="1098" y1="1213.6" x2="1141.65" y2="1188.4" stroke-width="2.3" stroke-linecap="butt"/>
<circle cx="1098" cy="1213.6" r="1.15" stroke="none"/>
<circle cx="1141.65" cy="1188.4" r="1.15" stroke="none"/>
<line x1="1141.65" y1="1188.4" x2="1185.3" y2="1213.6" stroke-width="2.3" stroke-linecap="butt"/>
<circle cx="1141.65" cy="1188.4" r="1.15" stroke="none"/>
<circle cx="1185.3" cy="1213.6" r="1.15" stroke="none"/>
<line x1="1185.3" y1="1213.6" x2="1228.95" y2="1188.4" stroke-width="2.3" stroke-linecap="butt"/>
<circle cx="1185.3" cy="1213.6" r="1.15" stroke="none"/>
<circle cx="1228.95" cy="1188.4" r="1.15" stroke="none"/>
<line x1="1228.95" y1="1188.4" x2="1257.6" y2="1204.94" stroke-width="2.3" stroke-linecap="butt"/>
<circle cx="1228.95" cy="1188.4" r="1.15" stroke="none"/>
<text stroke-width="0.45" x="1024.31" y="1227.4" transform="matrix(1 0 0 1.02 0 -24.55)" text-anchor="end">BnO</text>
<text stroke-width="0.45" x="1272.6" y="1227.4" transform="matrix(1 0 0 1.02 0 -24.55)" text-anchor="middle">R</text>
<text stroke-width="0.45" x="1231" y="1180.4" transform="matrix(1 0 0 1.02 0 -23.61)" text-anchor="middle" font-size="26.25">2</text>
<line x1="1096.07" y1="1224.47" x2="1099.93" y2="1224.47" stroke-width="2.1" stroke-linecap="butt"/>
<line x1="1094.13" y1="1235.33" x2="1101.87" y2="1235.33" stroke-width="2.1" stroke-linecap="butt"/>
<line x1="1092.2" y1="1246.2" x2="1103.8" y2="1246.2" stroke-width="2.1" stroke-linecap="butt"/>
<text stroke-width="0.45" x="1111.61" y="1277.8" transform="matrix(1 0 0 1.02 0 -25.56)" text-anchor="end">HOCO</text>
<polygon points="1142.15,1188.4 1147.15,1157.6 1136.15,1157.6 1141.15,1188.4" stroke="none" fill="#000"/>
<text stroke-width="0.45" x="1155.26" y="1151.8" text-anchor="end" dx="0 0 0 0.6 0.8"><tspan font-size="32">β</tspan>-<tspan font-size="30.5">D</tspan>-GalO</text>
<polygon points="1184.8,1213.6 1179.8,1246.8 1190.8,1246.8 1185.8,1213.6" stroke="none" fill="#000"/>
<text stroke-width="0.45" x="1171.69" y="1277.8" transform="matrix(1 0 0 1.02 0 -25.56)">OBn</text>
<text stroke-width="0.45" x="948.4" y="1351.8" transform="matrix(1 0 0 1.02 0 -27.04)" dx="0 0 0 0 0 0 0 0 0 0 0 0 0 1.3"><tspan font-weight="bold" stroke-width="0.15">15</tspan>: R = I (75)</text>
<text stroke-width="0.45" x="948.4" y="1397.8" transform="matrix(1 0 0 1.02 0 -27.96)" dx="0 0 0 0 0 0 0 0 0 0 0 0.8 0 0 0 0 1.3 0 0 0 0 0 1.3"><tspan font-weight="bold" stroke-width="0.15">16</tspan>: R = P(O)(OEt)<tspan font-size="26.25" dy="7">2</tspan><tspan dy="-7"> (82)</tspan></text>
<path d="M942.4 1334.4 H897 V1384.8 H927" stroke-width="2.3" fill="none"/>
<line x1="921" y1="1384.8" x2="926" y2="1384.8" stroke-width="2.3" stroke-linecap="butt"/>
<polygon points="945,1384.8 922.4,1378.8 926,1384.8 922.4,1390.8" stroke="none" fill="#000"/>
<text stroke-width="0.45" x="876" y="1373" text-anchor="middle">c</text>
</g>
</svg>
</body>
</html>
